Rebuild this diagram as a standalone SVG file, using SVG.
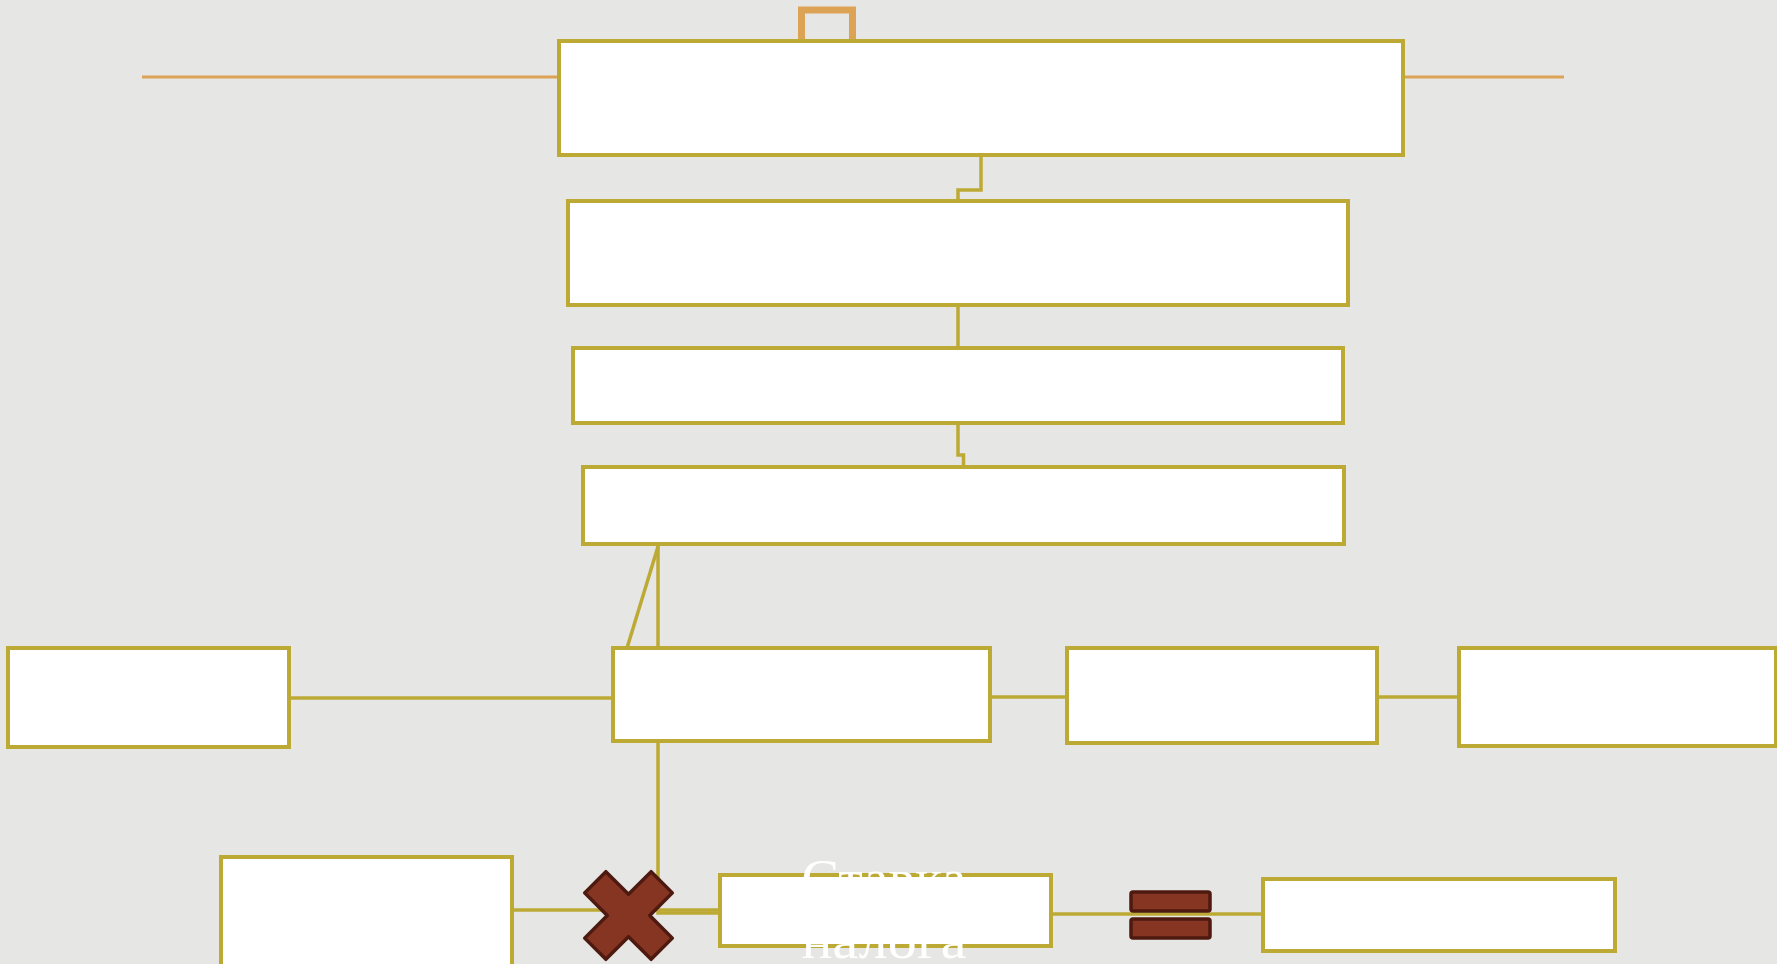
<svg xmlns="http://www.w3.org/2000/svg" width="1777" height="964" viewBox="0 0 1777 964">
  <style>
    .box { fill: #FFFFFF; stroke: #BCAA34; stroke-width: 4; }
    .conn { fill: none; stroke: #BCAA34; stroke-width: 3.5; }
    .orange { fill: none; stroke: #DDA354; }
    .op { fill: #863522; stroke: #4E1A10; stroke-width: 3.5; stroke-linejoin: round; }
    .lbl { font-family: "Liberation Serif", "Times New Roman", serif; font-size: 52px; fill: #FFFFFF; text-anchor: middle; }
  </style>
  <rect x="0" y="0" width="1777" height="964" fill="#E6E6E5"/>

  <g id="decor">
    <path class="orange" d="M801.5 41 V10 H852.5 V41" stroke-width="7"/>
    <line class="orange" x1="142" y1="77" x2="559" y2="77" stroke-width="3"/>
    <line class="orange" x1="1403" y1="77" x2="1564" y2="77" stroke-width="3"/>
  </g>

  <g id="connectors">
    <path class="conn" d="M981 155 V190 H958 V201" stroke="#A99830" stroke-width="4"/>
    <path class="conn" d="M958 305 V348"/>
    <path class="conn" d="M958 423 V455 H963.5 V467"/>
    <path class="conn" d="M658 545 V648"/>
    <path class="conn" d="M658.5 545 L627 648"/>
    <path class="conn" d="M290 698 H613"/>
    <path class="conn" d="M990 697 H1067" stroke-width="4.5"/>
    <path class="conn" d="M1377 697 H1459" stroke-width="3"/>
    <path class="conn" d="M658 741 V913 H720"/>
    <path class="conn" d="M512 910 H720"/>
    <path class="conn" d="M1051 914 H1263"/>
  </g>

  <g id="node-top"><rect class="box" x="559" y="41" width="844" height="114"/></g>
  <g id="node-2"><rect class="box" x="568" y="201" width="780" height="104"/></g>
  <g id="node-3"><rect class="box" x="573" y="348" width="770" height="75"/></g>
  <g id="node-4"><rect class="box" x="583" y="467" width="761" height="77"/></g>
  <g id="node-left"><rect class="box" x="8" y="648" width="281" height="99"/></g>
  <g id="node-center"><rect class="box" x="613" y="648" width="377" height="93"/></g>
  <g id="node-right1"><rect class="box" x="1067" y="648" width="310" height="95"/></g>
  <g id="node-right2"><rect class="box" x="1459" y="648" width="317" height="98"/></g>
  <g id="node-base"><rect class="box" x="221" y="857" width="291" height="120"/></g>

  <g id="op-multiply">
    <polygon class="op" transform="translate(628.5 915.5) rotate(45)" points="-15,-47 15,-47 15,-15 47,-15 47,15 15,15 15,47 -15,47 -15,15 -47,15 -47,-15 -15,-15"/>
  </g>

  <g id="node-rate">
    <rect class="box" x="720" y="875" width="331" height="71"/>
    <text class="lbl" x="884" y="896" textLength="165" lengthAdjust="spacingAndGlyphs">Ставка</text>
    <text class="lbl" x="884" y="958" textLength="165" lengthAdjust="spacingAndGlyphs">налога</text>
  </g>

  <g id="op-equals">
    <rect class="op" x="1131" y="892" width="79" height="19" rx="2"/>
    <rect class="op" x="1131" y="919" width="79" height="19" rx="2"/>
  </g>

  <g id="node-result"><rect class="box" x="1263" y="879" width="352" height="72"/></g>
</svg>
